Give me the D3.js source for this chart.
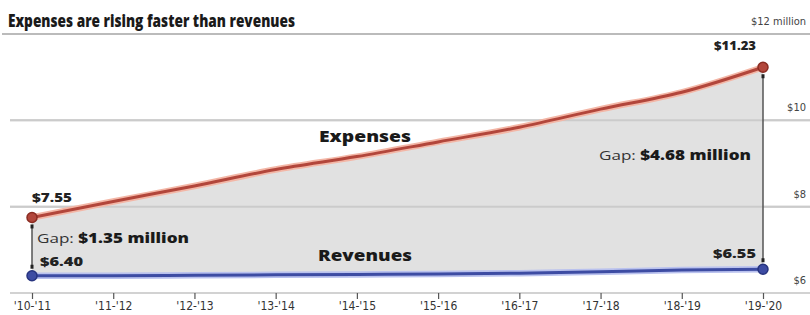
<!DOCTYPE html>
<html>
<head>
<meta charset="utf-8">
<script src="https://cdn.jsdelivr.net/npm/d3@7"></script>
<style>
  body { margin: 0; background: #fff; }
  svg { display: block; }
  .ylab { font-family: "DejaVu Sans Condensed", "DejaVu Sans", sans-serif; font-size: 11px; fill: #444; }
  .xaxis text { font-family: "DejaVu Sans Condensed", "DejaVu Sans", sans-serif; font-size: 12px; fill: #333; }
</style>
</head>
<body>
<script>
'use strict';

// fiscal years on the x axis
const years = ["'10-'11", "'11-'12", "'12-'13", "'13-'14", "'14-'15",
  "'15-'16", "'16-'17", "'17-'18", "'18-'19", "'19-'20"];

// millions of dollars, as plotted
const expenses = [7.75, 8.12, 8.48, 8.86, 9.16, 9.5, 9.84, 10.26, 10.65, 11.23];
const revenues = [6.40, 6.40, 6.41, 6.42, 6.43, 6.44, 6.46, 6.49, 6.53, 6.55];

// printed labels at the ends of the lines
const expenseEndLabels = ["$7.55", "$11.23"];
const revenueEndLabels = ["$6.40", "$6.55"];
const gapLabels = ["$1.35 million", "$4.68 million"];

// right hand axis
const yTicks = [6, 8, 10, 12];
const yTickLabels = ["$6", "$8", "$10", "$12 million"];

(function () {
  const width = 810, height = 315;

  const svg = d3.select('body')
    .append('svg')
    .attr('width', width)
    .attr('height', height);

  const x = d3.scalePoint()
    .domain(years)
    .range([32, 763]);

  const y = d3.scaleLinear()
    .domain([6, 12])
    .range([293, 34]);

  // gridlines + labels on the right
  function gridlines(vals, color) {
    svg.append('g')
      .selectAll('line')
      .data(vals)
      .enter()
      .append('line')
      .attr('x1', (d) => d === 12 ? 2 : 10)
      .attr('x2', width)
      .attr('y1', (d) => y(d))
      .attr('y2', (d) => y(d))
      .attr('stroke', (d) => d === 12 ? '#bbb' : color)
      .attr('stroke-width', 2);
  }
  gridlines(yTicks, '#d2d2d2');

  svg.append('g')
    .selectAll('text')
    .data(yTicks)
    .enter()
    .append('text')
    .attr('class', 'ylab')
    .attr('x', 806)
    .attr('y', (d) => y(d) - 9)
    .attr('text-anchor', 'end')
    .text((d, i) => yTickLabels[i]);

  // x axis
  const xAxis = d3.axisBottom(x).tickSize(6).tickPadding(2);
  const gx = svg.append('g')
    .attr('class', 'xaxis')
    .attr('transform', 'translate(0,' + y(6) + ')')
    .call(xAxis);
  gx.select('.domain').remove();
  gx.selectAll('.tick line').attr('stroke', '#555').attr('stroke-width', 1.2);

  // gap area between the two lines
  const curve = d3.curveMonotoneX;
  const rows = years.map((yr, i) => ({ yr: yr, e: expenses[i], r: revenues[i] }));
  const area = d3.area()
    .curve(curve)
    .x((d) => x(d.yr))
    .y0((d) => y(d.r))
    .y1((d) => y(d.e));
  svg.append('path')
    .datum(rows)
    .attr('fill', '#e1e1e1')
    .attr('d', area);

  // gridlines show through the fill
  gridlines([8, 10], '#cbcbcb');

  function drawSeries(vals, color, halo, dark) {
    const line = d3.line()
      .curve(curve)
      .x((d, i) => x(years[i]))
      .y((d) => y(d));
    svg.append('path')
      .datum(vals)
      .attr('fill', 'none')
      .attr('stroke', halo)
      .attr('stroke-width', 6.5)
      .attr('d', line);
    svg.append('path')
      .datum(vals)
      .attr('fill', 'none')
      .attr('stroke', color)
      .attr('stroke-width', 3)
      .attr('d', line);
    const ends = [0, vals.length - 1];
    svg.selectAll(null)
      .data(ends)
      .enter()
      .append('circle')
      .attr('cx', (i) => x(years[i]))
      .attr('cy', (i) => y(vals[i]))
      .attr('r', 5)
      .attr('fill', color)
      .attr('stroke', dark)
      .attr('stroke-width', 1.5);
  }

  // gap markers
  const last = years.length - 1;
  function gapLine(i, pad) {
    const x0 = x(years[i]);
    const top = y(expenses[i]) + pad;
    const bot = y(revenues[i]) - pad;
    svg.append('line')
      .attr('x1', x0).attr('x2', x0)
      .attr('y1', top).attr('y2', bot)
      .attr('stroke', '#555')
      .attr('stroke-width', 1.5);
    svg.selectAll(null)
      .data([top, bot])
      .enter()
      .append('rect')
      .attr('x', x0 - 1.5)
      .attr('y', (d) => d - 2)
      .attr('width', 3)
      .attr('height', 4)
      .attr('fill', '#222');
  }
  gapLine(0, 9);
  gapLine(last, 9);

  drawSeries(expenses, '#b2463b', '#f3b6a6', '#8a2c22');
  drawSeries(revenues, '#3d4ca3', '#b9c1ee', '#27347f');

  const font = '"Open Sans", sans-serif';

  function label(tx, ty, txt, size, anchor, weight, fill, len) {
    const t = svg.append('text')
      .attr('x', tx)
      .attr('y', ty)
      .attr('text-anchor', anchor)
      .style('font-family', font)
      .style('font-size', size + 'px')
      .style('font-weight', weight)
      .style('fill', fill || '#222')
      .text(txt);
    if (len) t.attr('textLength', len).attr('lengthAdjust', 'spacingAndGlyphs');
    return t;
  }

  // title
  label(8, 27, 'Expenses are rising faster than revenues', 17, 'start', 800, '#1a1a1a', 287);

  // series names
  label(365, 142, 'Expenses', 15.5, 'middle', 800, '#1a1a1a', 92);
  label(365, 261, 'Revenues', 15.5, 'middle', 800, '#1a1a1a', 94);

  // end values
  label(32, 202, expenseEndLabels[0], 12.5, 'start', 800, '#222', 40);
  label(40, 266, revenueEndLabels[0], 12.5, 'start', 800, '#222', 43);
  label(756, 50, expenseEndLabels[1], 12.5, 'end', 800, '#222', 42);
  label(756, 258, revenueEndLabels[1], 12.5, 'end', 800, '#222', 43);

  // gap annotations
  function gapText(tx, ty, anchor, txt) {
    const t = label(tx, ty, '', 13.5, anchor, 400, '#333', 152);
    t.append('tspan').text('Gap: ');
    t.append('tspan')
      .style('font-weight', 800)
      .style('fill', '#1a1a1a')
      .text(txt);
  }
  gapText(37, 243, 'start', gapLabels[0]);
  gapText(751, 160, 'end', gapLabels[1]);
})();
</script>
</body>
</html>
